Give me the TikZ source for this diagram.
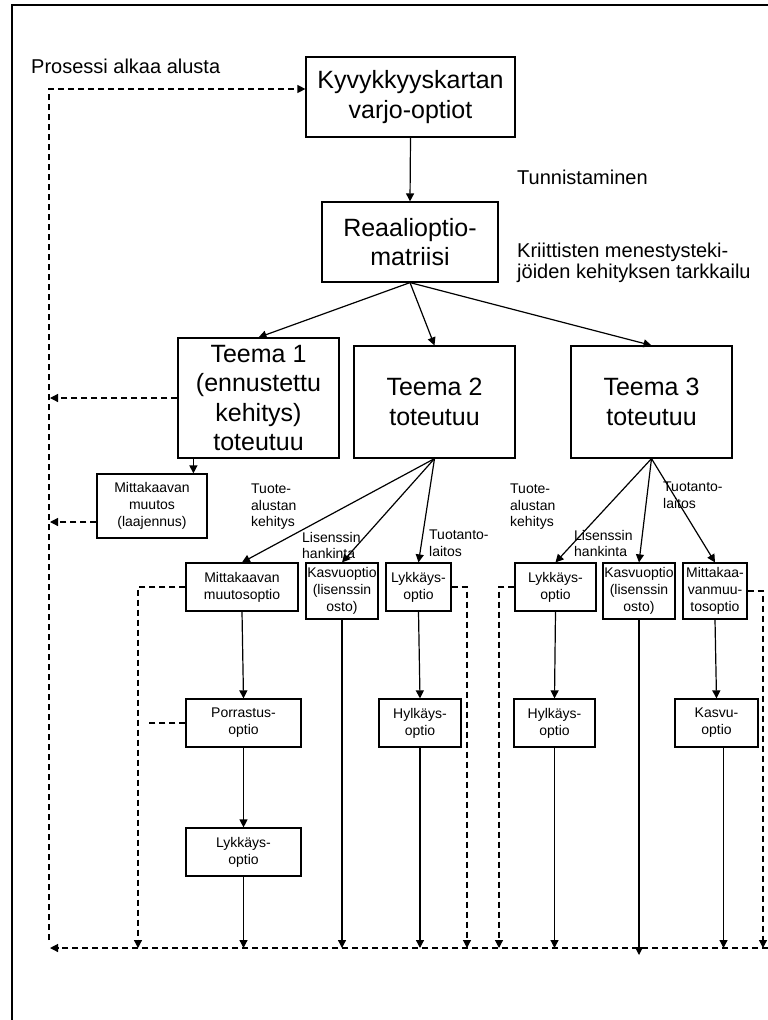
\documentclass[tikz,border=0pt]{standalone}
\usepackage{fontspec}
\setmainfont{Liberation Sans}
\usepackage{tikz}
\usetikzlibrary{arrows.meta,positioning}

\begin{document}
\begin{tikzpicture}[
  x=1pt, y=-1pt,
  box/.style={draw, line width=1.2pt, align=center, inner sep=0pt},
  bigbox/.style={box, font=\fontsize{25}{29.5}\selectfont},
  optbox/.style={box, font=\fontsize{14}{17}\selectfont},
  note/.style={font=\fontsize{20}{20.5}\selectfont, align=left, inner sep=0pt},
  tag/.style={font=\fontsize{14}{16.5}\selectfont, align=left, inner sep=0pt, anchor=north west},
  arr/.style={->, line width=1.2pt},
  ret/.style={->, line width=1.2pt, dash pattern=on 6pt off 4pt},
  >={Triangle[length=8pt,width=8pt]}
]
\useasboundingbox (0,0) rectangle (768,1020);
% frame
\draw[line width=2.5pt] (12,1040) -- (12,5) -- (790,5);

% top of the process
\node[bigbox, minimum width=209, minimum height=80] (kyv) at (410.5,97) {Kyvykkyyskartan\\varjo-optiot};
\node[bigbox, minimum width=176, minimum height=80] (matr) at (410,242) {Reaalioptio-\\matriisi};
\node[note, anchor=base west] (alku) at (31,73) {Prosessi alkaa alusta};
\node[note, anchor=base west] (tunn) at (517,184) {Tunnistaminen};
\node[note, anchor=north west] (kriit) at (517,243) {Kriittisten menestysteki-\\jöiden kehityksen tarkkailu};

% themes
\node[bigbox, minimum width=161, minimum height=120] (t1) at (258.5,398) {Teema 1\\(ennustettu\\kehitys)\\toteutuu};
\node[bigbox, minimum width=161, minimum height=112] (t2) at (434.5,402) {Teema 2\\toteutuu};
\node[bigbox, minimum width=161, minimum height=112] (t3) at (651.5,402) {Teema 3\\toteutuu};
\node[optbox, minimum width=110, minimum height=64] (mm1) at (152,506) {Mittakaavan\\muutos\\(laajennus)};

% options of theme 2
\node[optbox, minimum width=112, minimum height=48] (mmo) at (242,587) {Mittakaavan\\muutosoptio};
\node[optbox, minimum width=72, minimum height=56] (kas2) at (342,591) {Kasvuoptio\\(lisenssin\\osto)};
\node[optbox, minimum width=65, minimum height=48] (lyk2) at (418.5,587) {Lykkäys-\\optio};
\node[optbox, minimum width=115, minimum height=48] (por) at (243.5,723) {Porrastus-\\optio};
\node[optbox, minimum width=115, minimum height=48] (lyk1) at (243.5,852) {Lykkäys-\\optio};
\node[optbox, minimum width=82, minimum height=48] (hyl2) at (420,723) {Hylkäys-\\optio};

% options of theme 3
\node[optbox, minimum width=81, minimum height=48] (lyk3) at (555.5,587) {Lykkäys-\\optio};
\node[optbox, minimum width=72, minimum height=56] (kas3) at (639,591) {Kasvuoptio\\(lisenssin\\osto)};
\node[optbox, minimum width=64, minimum height=56] (mmo3) at (715,591) {Mittakaa-\\vanmuu-\\tosoptio};
\node[optbox, minimum width=81, minimum height=48] (hyl3) at (554.5,723) {Hylkäys-\\optio};
\node[optbox, minimum width=83, minimum height=48] (kasvu3) at (716.5,723) {Kasvu-\\optio};

% edge labels
\node[tag] (tuo2) at (251,484) {Tuote-\\alustan\\kehitys};
\node[tag] (lis2) at (302,532) {Lisenssin\\hankinta};
\node[tag] (tta2) at (429,530) {Tuotanto-\\laitos};
\node[tag] (tuo3) at (510,484) {Tuote-\\alustan\\kehitys};
\node[tag] (lis3) at (574,530) {Lisenssin\\hankinta};
\node[tag] (tta3) at (663,482) {Tuotanto-\\laitos};

% return line coordinates
\coordinate (bl) at (50,948);
\coordinate (br) at (768,948);
\coordinate (lt) at (49,940);
\coordinate (d1) at (138,948);
\coordinate (d2) at (467,948);
\coordinate (d3) at (499,948);
\coordinate (d4) at (763,948);

% solid arrows
\draw[arr] (kyv.south) -- (matr.north);
\foreach \t in {t1,t2,t3} {
  \draw[arr] (matr.south) -- (\t.north);
}
\draw[arr] ([xshift=16pt]t1.south west) -- ([xshift=16pt]t1.south west |- mm1.north);
\foreach \o in {mmo,kas2,lyk2} {
  \draw[arr] (t2.south) -- (\o.north);
}
\foreach \o in {lyk3,kas3,mmo3} {
  \draw[arr] (t3.south) -- (\o.north);
}
\draw[arr] (mmo.south) -- (por.north);
\draw[arr] (por.south) -- (lyk1.north);
\draw[arr] (lyk2.south) -- (hyl2.north);
\draw[arr] (lyk3.south) -- (hyl3.north);
\draw[arr] (mmo3.south) -- (kasvu3.north);
\foreach \o in {lyk1,kas2,hyl2,hyl3} {
  \draw[arr] (\o.south) -- (\o.south |- bl);
}
\draw[arr] (kas3.south) -- ([yshift=-7pt]kas3.south |- bl);
\draw[arr] ([xshift=7pt]kasvu3.south) -- ([xshift=7pt]kasvu3.south |- bl);

% dashed return lines
\draw[ret] (br) -- (bl);
\draw[ret] (lt) |- ([yshift=8pt]kyv.west);
\draw[ret] (t1.west) -- (t1.west -| bl);
\draw[ret] ([yshift=-16pt]mm1.west) -- ([yshift=-16pt]mm1.west -| bl);
\draw[ret] (mmo.west) -| (d1);
\draw[ret, -] (por.west) -- ([xshift=8pt]por.west -| d1);
\draw[ret] (lyk2.east) -| (d2);
\draw[ret] (lyk3.west) -| (d3);
\draw[ret] (mmo3.east) -| (d4);
\end{tikzpicture}
\end{document}
